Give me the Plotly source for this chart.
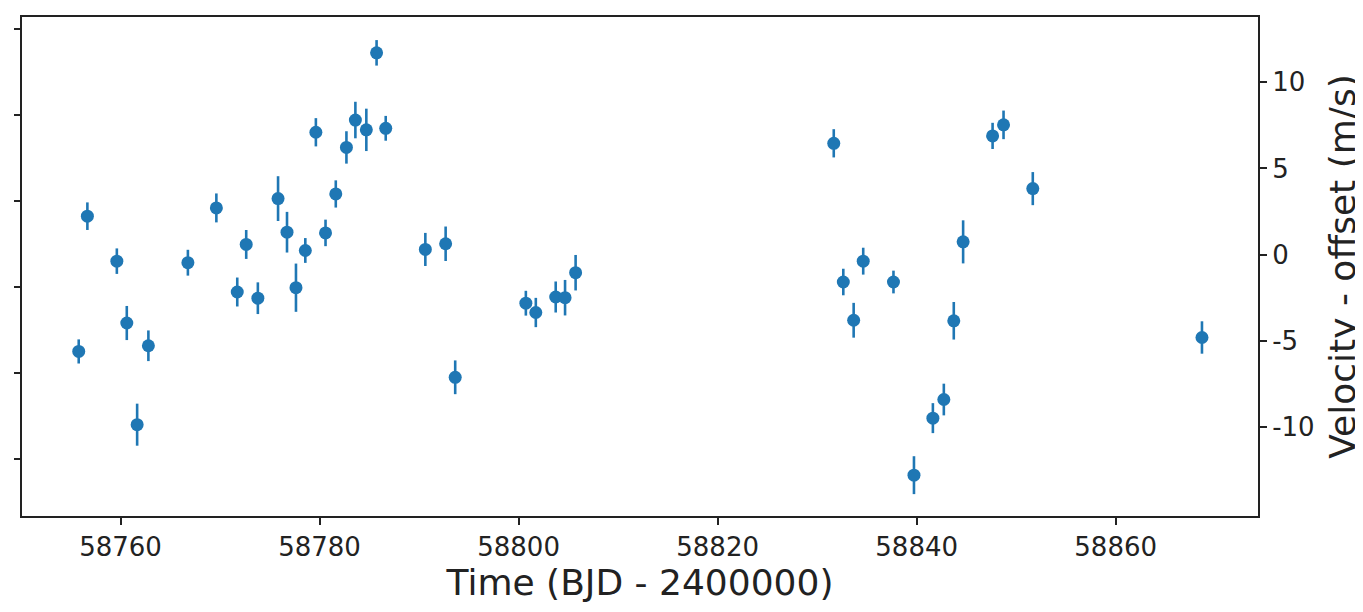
import plotly.graph_objects as go

# Time (BJD - 2400000)
time = [58755.8, 58756.67, 58759.63, 58760.63, 58761.67, 58762.8, 58766.77, 58769.63,
        58771.73, 58772.63, 58773.8, 58775.83, 58776.73, 58777.63, 58778.57, 58779.63,
        58780.6, 58781.63, 58782.7, 58783.6, 58784.7, 58785.73, 58786.65, 58790.63,
        58792.67, 58793.63, 58800.73, 58801.73, 58803.73, 58804.67, 58805.73,
        58831.67, 58832.63, 58833.67, 58834.63, 58837.67, 58839.73, 58841.63,
        58842.73, 58843.73, 58844.67, 58847.63, 58848.73, 58851.67, 58868.67]
# Velocity - offset (m/s)
velocity = [-5.62, 2.23, -0.38, -3.97, -9.87, -5.29, -0.47, 2.71,
            -2.17, 0.59, -2.53, 3.25, 1.30, -1.92, 0.24, 7.10,
            1.26, 3.52, 6.22, 7.81, 7.24, 11.71, 7.33, 0.30,
            0.63, -7.12, -2.82, -3.36, -2.46, -2.50, -1.05,
            6.46, -1.59, -3.81, -0.38, -1.59, -12.80, -9.49,
            -8.41, -3.84, 0.74, 6.89, 7.53, 3.83, -4.81]
# 1-sigma errors (m/s)
error = [0.70, 0.80, 0.74, 0.99, 1.22, 0.89, 0.75, 0.84,
         0.84, 0.84, 0.92, 1.30, 1.18, 1.40, 0.72, 0.82,
         0.77, 0.79, 0.94, 1.06, 1.23, 0.74, 0.72, 0.96,
         1.00, 0.98, 0.72, 0.85, 0.90, 1.03, 1.03,
         0.82, 0.77, 1.01, 0.78, 0.66, 1.10, 0.87,
         0.92, 1.09, 1.25, 0.76, 0.83, 0.96, 0.94]

x_ticks = [58760, 58780, 58800, 58820, 58840, 58860]
y_ticks = [-10, -5, 0, 5, 10]
left_ticks = [-5, 0, 5, 10, 15, 20]

BLUE = "#1f77b4"
INK = "#222222"
FONT = "DejaVu Sans"

fig = go.Figure()
fig.add_trace(go.Scatter(
    x=time, y=velocity, mode="markers",
    marker=dict(color=BLUE, size=13, line=dict(width=0)),
    error_y=dict(type="data", array=error, visible=True, thickness=2.6, width=0, color=BLUE),
    showlegend=False, yaxis="y", xaxis="x",
))
# empty trace so that the unlabeled left axis is drawn
fig.add_trace(go.Scatter(x=[], y=[], yaxis="y2", xaxis="x", showlegend=False, hoverinfo="skip"))

fig.update_layout(
    width=1355, height=604,
    margin=dict(l=9, r=104, t=7, b=96),
    paper_bgcolor="white", plot_bgcolor="white",
    font=dict(family=FONT, color=INK),
    xaxis=dict(
        range=[58750.1, 58874.3], tickvals=x_ticks, ticktext=[str(v) for v in x_ticks],
        showgrid=False, zeroline=False,
        showline=True, mirror=True, linecolor=INK, linewidth=2,
        ticks="outside", ticklen=7, tickwidth=1.5, tickcolor=INK,
        tickfont=dict(size=26, color=INK, family=FONT),
        title=dict(text="Time (BJD - 2400000)", font=dict(size=36, color=INK, family=FONT), standoff=2),
    ),
    yaxis=dict(
        side="right", range=[-15.17, 13.79], tickvals=y_ticks, ticktext=[str(v) for v in y_ticks],
        showgrid=False, zeroline=False,
        showline=True, mirror=True, linecolor=INK, linewidth=2,
        ticks="outside", ticklen=7, tickwidth=1.5, tickcolor=INK,
        tickfont=dict(size=26, color=INK, family=FONT),
        title=dict(text="Velocity - offset (m/s)", font=dict(size=36, color=INK, family=FONT), standoff=16),
    ),
    yaxis2=dict(
        overlaying="y", side="left", range=[-8.28, 20.68], tickvals=left_ticks,
        showticklabels=False, showgrid=False, zeroline=False, showline=False,
        ticks="outside", ticklen=7, tickwidth=1.5, tickcolor=INK,
    ),
)

fig.write_html("out.html")
